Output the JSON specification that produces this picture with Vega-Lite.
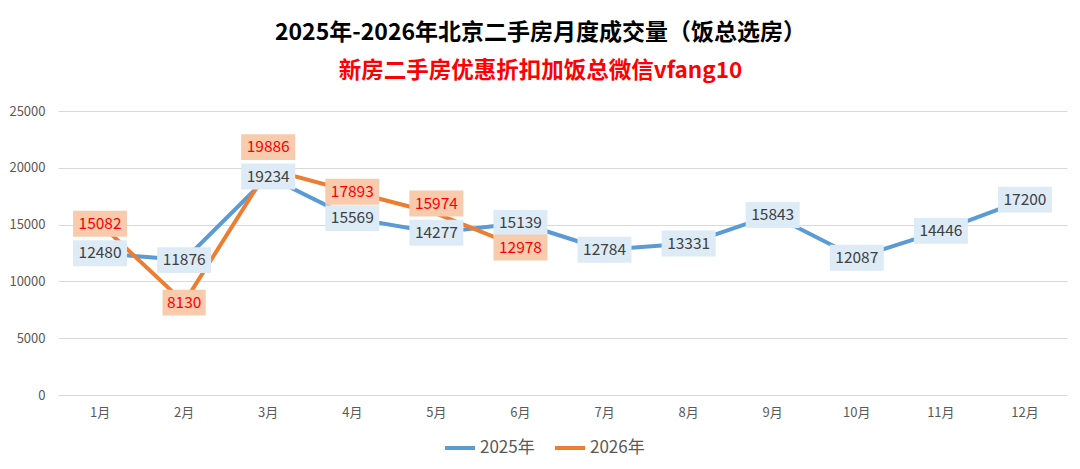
{
  "$schema": "https://vega.github.io/schema/vega-lite/v6.json",
  "autosize": "none",
  "width": 1009,
  "height": 284,
  "padding": {"left": 58, "top": 111, "right": 13, "bottom": 74},
  "background": "white",
  "title": {
    "text": "2025年-2026年北京二手房月度成交量（饭总选房）",
    "subtitle": "新房二手房优惠折扣加饭总微信vfang10",
    "anchor": "middle",
    "dx": -22,
    "offset": 23,
    "font": "Noto Sans CJK SC",
    "fontSize": 23,
    "fontWeight": "bold",
    "color": "#000000",
    "subtitleFont": "Noto Sans CJK SC",
    "subtitleFontSize": 22.5,
    "subtitleFontWeight": "bold",
    "subtitleColor": "#FF0000",
    "subtitlePadding": 15
  },
  "data": {
    "values": [
      {"month": "1月", "series": "2025年", "value": 12480},
      {"month": "2月", "series": "2025年", "value": 11876},
      {"month": "3月", "series": "2025年", "value": 19234},
      {"month": "4月", "series": "2025年", "value": 15569},
      {"month": "5月", "series": "2025年", "value": 14277},
      {"month": "6月", "series": "2025年", "value": 15139},
      {"month": "7月", "series": "2025年", "value": 12784},
      {"month": "8月", "series": "2025年", "value": 13331},
      {"month": "9月", "series": "2025年", "value": 15843},
      {"month": "10月", "series": "2025年", "value": 12087},
      {"month": "11月", "series": "2025年", "value": 14446},
      {"month": "12月", "series": "2025年", "value": 17200},
      {"month": "1月", "series": "2026年", "value": 15082},
      {"month": "2月", "series": "2026年", "value": 8130},
      {"month": "3月", "series": "2026年", "value": 19886},
      {"month": "4月", "series": "2026年", "value": 17893},
      {"month": "5月", "series": "2026年", "value": 15974},
      {"month": "6月", "series": "2026年", "value": 12978}
    ]
  },
  "encoding": {
    "x": {
      "field": "month",
      "type": "ordinal",
      "sort": ["1月", "2月", "3月", "4月", "5月", "6月", "7月", "8月", "9月", "10月", "11月", "12月"],
      "scale": {"type": "band", "paddingInner": 0, "paddingOuter": 0},
      "axis": {
        "title": null,
        "labelAngle": 0,
        "domain": false,
        "ticks": false,
        "labelPadding": 11,
        "labelFontSize": 13,
        "labelColor": "#595959",
        "labelFont": "Noto Sans CJK SC"
      }
    },
    "y": {
      "field": "value",
      "type": "quantitative",
      "scale": {"domain": [0, 25000], "nice": false},
      "axis": {
        "title": null,
        "values": [0, 5000, 10000, 15000, 20000, 25000],
        "format": "d",
        "domain": false,
        "ticks": false,
        "labelPadding": 13,
        "labelFontSize": 13,
        "labelColor": "#595959",
        "labelFont": "Noto Sans CJK SC",
        "gridColor": "#D9D9D9",
        "gridWidth": 1
      }
    }
  },
  "layer": [
    {
      "mark": {"type": "line", "strokeWidth": 4, "strokeJoin": "round", "strokeCap": "round"},
      "encoding": {
        "color": {
          "field": "series",
          "type": "nominal",
          "scale": {"domain": ["2025年", "2026年"], "range": ["#5B9BD5", "#ED7D31"]},
          "legend": {
            "title": null,
            "orient": "none",
            "direction": "horizontal",
            "legendX": 385,
            "legendY": 320,
            "symbolType": "stroke",
            "symbolSize": 900,
            "symbolStrokeWidth": 4,
            "labelFontSize": 17,
            "labelColor": "#595959",
            "labelFont": "Noto Sans CJK SC",
            "labelOffset": 3,
            "columnPadding": 12
          }
        }
      }
    },
    {
      "transform": [{"filter": "!(datum.series == '2026年' && (datum.month == '3月' || datum.month == '5月'))"}],
      "layer": [
        {
          "mark": {"type": "point", "filled": true, "opacity": 1, "size": 2916, "strokeWidth": 0},
          "encoding": {
            "fill": {
              "field": "series",
              "type": "nominal",
              "scale": {"domain": ["2025年", "2026年"], "range": ["#DDEBF7", "#F8CBAD"]},
              "legend": null
            },
            "shape": {
              "condition": {"test": "datum.value < 10000", "value": "M-0.8,-0.48H0.8V0.48H-0.8Z"},
              "value": "M-1,-0.48H1V0.48H-1Z"
            }
          }
        },
        {
          "mark": {"type": "text", "fontSize": 15.5, "font": "Noto Sans CJK SC", "baseline": "middle", "align": "center"},
          "encoding": {
            "text": {"field": "value", "type": "quantitative", "format": "d"},
            "color": {
              "condition": {"test": "datum.series == '2026年'", "value": "#FF0000"},
              "value": "#404040"
            }
          }
        }
      ]
    },
    {
      "transform": [{"filter": "datum.series == '2026年' && datum.month == '3月'"}],
      "layer": [
        {
          "mark": {"type": "point", "filled": true, "opacity": 1, "size": 2916, "strokeWidth": 0, "yOffset": -22, "color": "#F8CBAD",
            "shape": "M-1,-0.48H1V0.48H-1Z"}
        },
        {
          "mark": {"type": "text", "fontSize": 15.5, "font": "Noto Sans CJK SC", "baseline": "middle", "align": "center", "yOffset": -22, "color": "#FF0000"},
          "encoding": {"text": {"field": "value", "type": "quantitative", "format": "d"}}
        }
      ]
    },
    {
      "transform": [{"filter": "datum.series == '2026年' && datum.month == '5月'"}],
      "layer": [
        {
          "mark": {"type": "point", "filled": true, "opacity": 1, "size": 2916, "strokeWidth": 0, "yOffset": -10, "color": "#F8CBAD",
            "shape": "M-1,-0.48H1V0.48H-1Z"}
        },
        {
          "mark": {"type": "text", "fontSize": 15.5, "font": "Noto Sans CJK SC", "baseline": "middle", "align": "center", "yOffset": -10, "color": "#FF0000"},
          "encoding": {"text": {"field": "value", "type": "quantitative", "format": "d"}}
        }
      ]
    }
  ],
  "config": {
    "view": {"stroke": null}
  }
}
